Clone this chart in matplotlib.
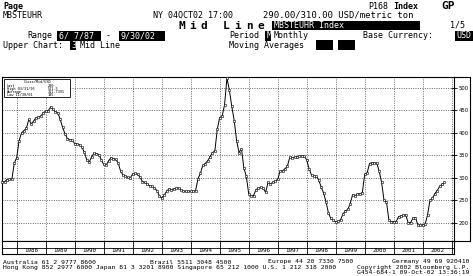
import matplotlib
matplotlib.use('Agg')
import numpy as np
import matplotlib.pyplot as plt
from matplotlib.patches import Rectangle
from matplotlib.lines import Line2D

# monthly mid line, USD/metric ton, Jun 1987 .. Sep 2002
start_year, start_month = 1987, 6
mid_1987 = [290, 292, 296, 297, 297, 333, 345]
mid_1988 = [383, 400, 405, 410, 430, 420, 426, 434, 435, 437, 445, 448]
mid_1989 = [449, 457, 452, 447, 445, 430, 412, 398, 387, 385, 384, 376]
mid_1990 = [375, 374, 368, 357, 340, 335, 347, 355, 354, 352, 340, 330]
mid_1991 = [328, 338, 345, 343, 341, 333, 315, 306, 304, 301, 300, 309]
mid_1992 = [310, 308, 302, 292, 290, 286, 283, 281, 278, 272, 261, 255]
mid_1993 = [262, 270, 276, 274, 276, 277, 278, 273, 271, 270, 270, 270]
mid_1994 = [270, 271, 298, 310, 328, 332, 338, 347, 356, 360, 408, 434]
mid_1995 = [437, 462, 521.5, 495, 459, 427, 383, 356, 365, 322, 304, 265]
mid_1996 = [260, 261, 274, 277, 279, 277, 268, 290, 287, 290, 293, 297]
mid_1997 = [315, 316, 320, 326, 346, 345, 346, 347, 348, 349, 348, 340]
mid_1998 = [320, 306, 304, 304, 295, 280, 266, 247, 222, 210, 206, 203]
mid_1999 = [204, 207, 220, 227, 230, 243, 263, 261, 264, 265, 267, 308]
mid_2000 = [311, 332, 334, 333, 333, 315, 290, 250, 247, 207, 203, 203]
mid_2001 = [203, 214, 216, 217, 218, 200, 201, 211, 212, 196, 195, 196]
mid_2002 = [197, 218, 250, 255, 265, 272, 281, 286, 290]

years = list(range(1988, 2003))
y_ticks = [200, 250, 300, 350, 400, 450, 500]

legend_rows = [("Last", "290"),
               ("High 03/31/95", "521.5"),
               ("Average", "311.7391"),
               ("Low 11/30/01", "195")]

mid = (mid_1987 + mid_1988 + mid_1989 + mid_1990 + mid_1991 + mid_1992 +
       mid_1993 + mid_1994 + mid_1995 + mid_1996 + mid_1997 + mid_1998 +
       mid_1999 + mid_2000 + mid_2001 + mid_2002)
# month-end dates as fractional years
t = start_year + (start_month + np.arange(len(mid))) / 12.0

W, H = 473, 276
MONO = 'DejaVu Sans Mono'
HS = 6.0   # header font size

def fx(px): return px / W
def fy(py): return 1 - py / H

fig = plt.figure(figsize=(W / 100, H / 100), dpi=100)
fig.patch.set_facecolor('white')

def txt(x, y, s, size=HS, weight='normal', color='black', ha='left'):
    fig.text(fx(x), fy(y), s, fontsize=size, family=MONO, weight=weight,
             color=color, ha=ha, va='center')

def inv(x0, x1, y, s=None):
    fig.patches.append(Rectangle((fx(x0), fy(y + 4.5)), (x1 - x0) / W, 9 / H,
                                 transform=fig.transFigure,
                                 facecolor='black', edgecolor='none'))
    if s:
        txt(x0 + 1.5, y, s, color='white')

# header
txt(3, 6.5, "Page", weight='bold')
txt(368, 6.5, "P168")
txt(393, 6.5, "Index", weight='bold')
txt(441, 6, "GP", size=8, weight='bold')
txt(3, 15.5, "MBSTEUHR")
txt(153, 15.5, "NY 04OCT02 17:00")
txt(263, 15.5, "290.00/310.00 USD/metric ton", size=6.4)
for i, c in enumerate("Mid Line"):
    txt(178 + i * 11.3, 26.3, c, size=8, weight='bold')
inv(272, 420, 25.5, "MBSTEUHR Index")
txt(450, 25.5, "1/5")
txt(27, 36, "Range")
inv(57, 101, 36, "6/ 7/87")
txt(106, 36, "-")
inv(119, 165, 36, "9/30/02")
txt(229, 36, "Period")
inv(265, 271, 36, "M")
txt(274, 36, "Monthly")
txt(363, 36, "Base Currency:")
inv(455, 473, 36, "USD")
txt(3, 45, "Upper Chart:")
inv(70, 76, 45, "3")
txt(80, 45, "Mid Line")
txt(229, 45, "Moving Averages")
inv(316, 333, 45)
inv(338, 355, 45)

# main chart
x0, x1 = 1988 - 14.7 / 29, 1988 + 437.3 / 29
ax = fig.add_axes([fx(2), fy(241), 452 / W, 164 / H])
ax.plot(t, mid, color='black', lw=0.7, marker='s', ms=1.6, mfc='white',
        mec='black', mew=0.4, clip_on=False, zorder=3)
ax.set_xlim(x0, x1)
ax.set_ylim(160.05, 524.0)
ax.set_xticks(years + [2003])
ax.set_yticks(y_ticks)
ax.grid(True, color='#555555', lw=0.6, ls=(0, (1.2, 1.6)))
ax.tick_params(axis='x', length=0, labelbottom=False)
ax.yaxis.tick_right()
ax.tick_params(axis='y', direction='inout', length=4, width=0.6,
               labelsize=3.8, pad=1.5)
for s in ax.spines.values():
    s.set_linewidth(0.8)

# legend box
fig.patches.append(Rectangle((fx(4), fy(97)), 66 / W, 18 / H,
                             transform=fig.transFigure, facecolor='white',
                             edgecolor='black', lw=0.6, zorder=5))
fig.text(fx(24), fy(82), "Close/Mid/USD", fontsize=2.6, family=MONO,
         va='center', zorder=6)
for i, (k, v) in enumerate(legend_rows):
    yy = 85.6 + i * 3.3
    fig.text(fx(7), fy(yy), k, fontsize=2.6, family=MONO, va='center', zorder=6)
    fig.text(fx(48), fy(yy), v, fontsize=2.6, family=MONO, va='center', zorder=6)

# right frame around tick labels
fig.lines.append(Line2D([fx(454), fx(470), fx(470), fx(454)],
                        [fy(77), fy(77), fy(241), fy(241)],
                        transform=fig.transFigure, color='black', lw=0.8))

# year band
axy = fig.add_axes([fx(2), fy(254), 452 / W, 13 / H])
axy.set_xlim(x0, x1)
axy.set_ylim(254, 241)
axy.set_xticks([])
axy.set_yticks([])
axy.axhline(247.5, color='black', lw=0.6)
for yr in years + [2003]:
    axy.axvline(yr, color='black', lw=0.6)
for yr in years:
    axy.text(yr + 0.5, 251, str(yr), fontsize=4.2, family=MONO,
             ha='center', va='center')
for s in axy.spines.values():
    s.set_linewidth(0.8)

# footer
fs = 4.6
txt(3, 262, "Australia 61 2 9777 8600", size=fs)
txt(150, 262, "Brazil 5511 3048 4500", size=fs)
txt(268, 262, "Europe 44 20 7330 7500", size=fs)
txt(469, 262, "Germany 49 69 920410", size=fs, ha='right')
txt(3, 267.5, "Hong Kong 852 2977 6000 Japan 81 3 3201 8900 Singapore 65 212 1000 U.S. 1 212 318 2000", size=fs)
txt(469, 267.5, "Copyright 2002 Bloomberg L.P.", size=fs, ha='right')
txt(469, 272.5, "G454-684-1 09-Oct-02 13:36:19", size=fs, ha='right')

fig.savefig('out.png', dpi=100, facecolor='white')
